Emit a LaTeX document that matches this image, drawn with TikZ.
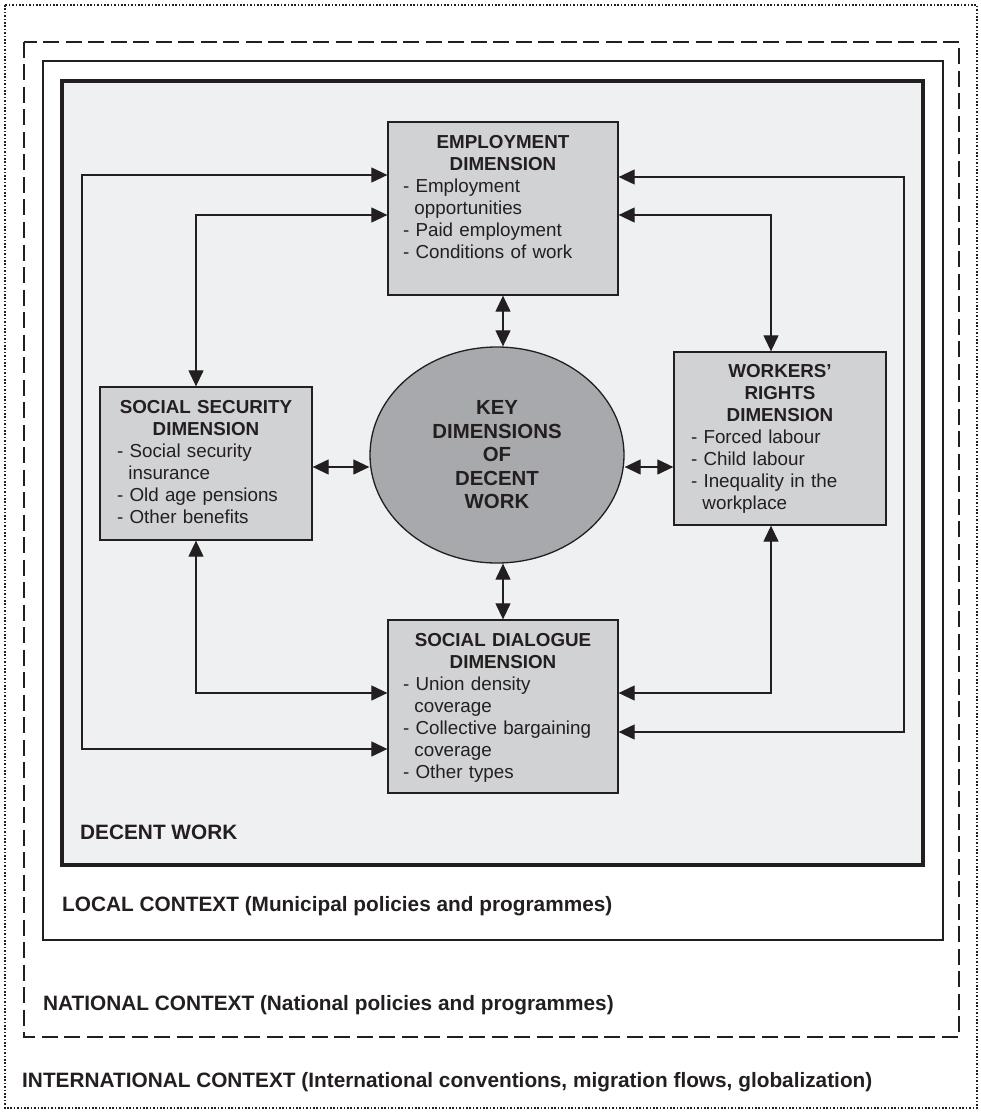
\documentclass[tikz,border=0pt]{standalone}
\usepackage{fontspec}
\setmainfont{Liberation Sans}
\usepackage{tikz}
\usetikzlibrary{arrows.meta,shapes.geometric,calc}

\definecolor{ink}{HTML}{231F20}
\definecolor{paleback}{HTML}{EFF0F2}
\definecolor{boxfill}{HTML}{D1D2D4}
\definecolor{ovalfill}{HTML}{A7A9AC}

\tikzset{
  dimbox/.style={draw=ink, fill=boxfill, line width=1.3pt, inner sep=0pt},
  dimtext/.style={anchor=north, inner sep=0pt, align=left, text=ink,
    font=\fontsize{18.8}{22}\selectfont},
  framelabel/.style={anchor=base west, inner sep=0pt, text=ink,
    font=\bfseries\fontsize{20.8}{24}\selectfont},
  link/.style={draw=ink, line width=1.2pt,
    {Triangle[length=16pt,width=15pt]}-{Triangle[length=16pt,width=15pt]}}
}
\newcommand{\dimhead}[1]{{\centering\bfseries #1\par}}
\newcommand{\dimline}[1]{\par\noindent- #1}
\newcommand{\dimcont}[1]{\par\noindent\hspace*{0.611em}#1}

\begin{document}
\begin{tikzpicture}[x=1pt,y=-1pt]
  \useasboundingbox (0,0) rectangle (981,1115);

  % context frames
  \draw[ink, line width=1.6pt, dash pattern=on 1.6pt off 1.8pt] (5,5) rectangle (977,1108);
  \draw[ink, line width=2pt, dash pattern=on 16pt off 6.5pt] (24,42) rectangle (959,1037);
  \draw[ink, line width=1.5pt] (43,61) rectangle (943,940);
  \draw[ink, line width=4pt, fill=paleback] (62,81) rectangle (923,865);

  \foreach \nm/\x/\y/\txt in {decent/80/839/{DECENT WORK},
      local/62/911.5/{LOCAL CONTEXT (Municipal policies and programmes)},
      national/43/1010/{NATIONAL CONTEXT (National policies and programmes)},
      intl/22/1087/{INTERNATIONAL CONTEXT (International conventions, migration flows, globalization)}}
    \node[framelabel] (\nm) at (\x,\y) {\txt};

  % dimension boxes
  \node[dimbox, minimum width=230pt, minimum height=173pt] (emp) at (503,208.5) {};
  \node[dimbox, minimum width=212pt, minimum height=153pt] (ss) at (206,463.5) {};
  \node[dimbox, minimum width=212pt, minimum height=173pt] (wr) at (780,438.5) {};
  \node[dimbox, minimum width=230pt, minimum height=173pt] (dia) at (503,706.5) {};

  \node[dimtext, text width=200pt] (empText) at ([yshift=-13.5pt]emp.north) {%
    \dimhead{EMPLOYMENT\\DIMENSION}%
    \dimline{Employment}\dimcont{opportunities}%
    \dimline{Paid employment}%
    \dimline{Conditions of work}};
  \node[dimtext, text width=178pt] (ssText) at ([yshift=-13.5pt]ss.north) {%
    \dimhead{SOCIAL SECURITY\\DIMENSION}%
    \dimline{Social security}\dimcont{insurance}%
    \dimline{Old age pensions}%
    \dimline{Other benefits}};
  \node[dimtext, text width=178pt] (wrText) at ([yshift=-12.5pt]wr.north) {%
    \dimhead{WORKERS’\\RIGHTS\\DIMENSION}%
    \dimline{Forced labour}%
    \dimline{Child labour}%
    \dimline{Inequality in the}\dimcont{workplace}};
  \node[dimtext, text width=200pt] (diaText) at ([yshift=-13.5pt]dia.north) {%
    \dimhead{SOCIAL DIALOGUE\\DIMENSION}%
    \dimline{Union density}\dimcont{coverage}%
    \dimline{Collective bargaining}\dimcont{coverage}%
    \dimline{Other types}};

  % centre
  \node[ellipse, draw=ink, fill=ovalfill, line width=1.3pt, inner sep=0pt,
    minimum width=254pt, minimum height=216pt, align=center, text=ink,
    font=\bfseries\fontsize{20.4}{23.5}\selectfont] (key) at (497,455)
    {KEY\\DIMENSIONS\\OF\\DECENT\\WORK};

  % bends of the connectors
  \coordinate (midrow) at (0,467);
  \coordinate (leftOuterTop) at (82,175);
  \coordinate (leftOuterBot) at (82,749);
  \coordinate (ssUp) at (196,215);
  \coordinate (ssDown) at (196,693);
  \coordinate (rightOuterTop) at (904,177);
  \coordinate (rightOuterBot) at (904,732);
  \coordinate (wrUp) at (771,215);
  \coordinate (wrDown) at (771,693);

  \draw[link] (emp.south) -- (emp.south |- key.north);
  \draw[link] (dia.north) -- (dia.north |- key.south);
  \draw[link] (ss.east |- midrow) -- (key.west |- midrow);
  \draw[link] (wr.west |- midrow) -- (key.east |- midrow);

  \draw[link] (emp.west |- leftOuterTop) -- (leftOuterTop) -- (leftOuterBot) -- (dia.west |- leftOuterBot);
  \draw[link] (emp.west |- ssUp) -- (ssUp) -- (ss.north -| ssUp);
  \draw[link] (ss.south -| ssDown) -- (ssDown) -- (dia.west |- ssDown);
  \draw[link] (emp.east |- rightOuterTop) -- (rightOuterTop) -- (rightOuterBot) -- (dia.east |- rightOuterBot);
  \draw[link] (emp.east |- wrUp) -- (wrUp) -- (wr.north -| wrUp);
  \draw[link] (wr.south -| wrDown) -- (wrDown) -- (dia.east |- wrDown);
\end{tikzpicture}
\end{document}
